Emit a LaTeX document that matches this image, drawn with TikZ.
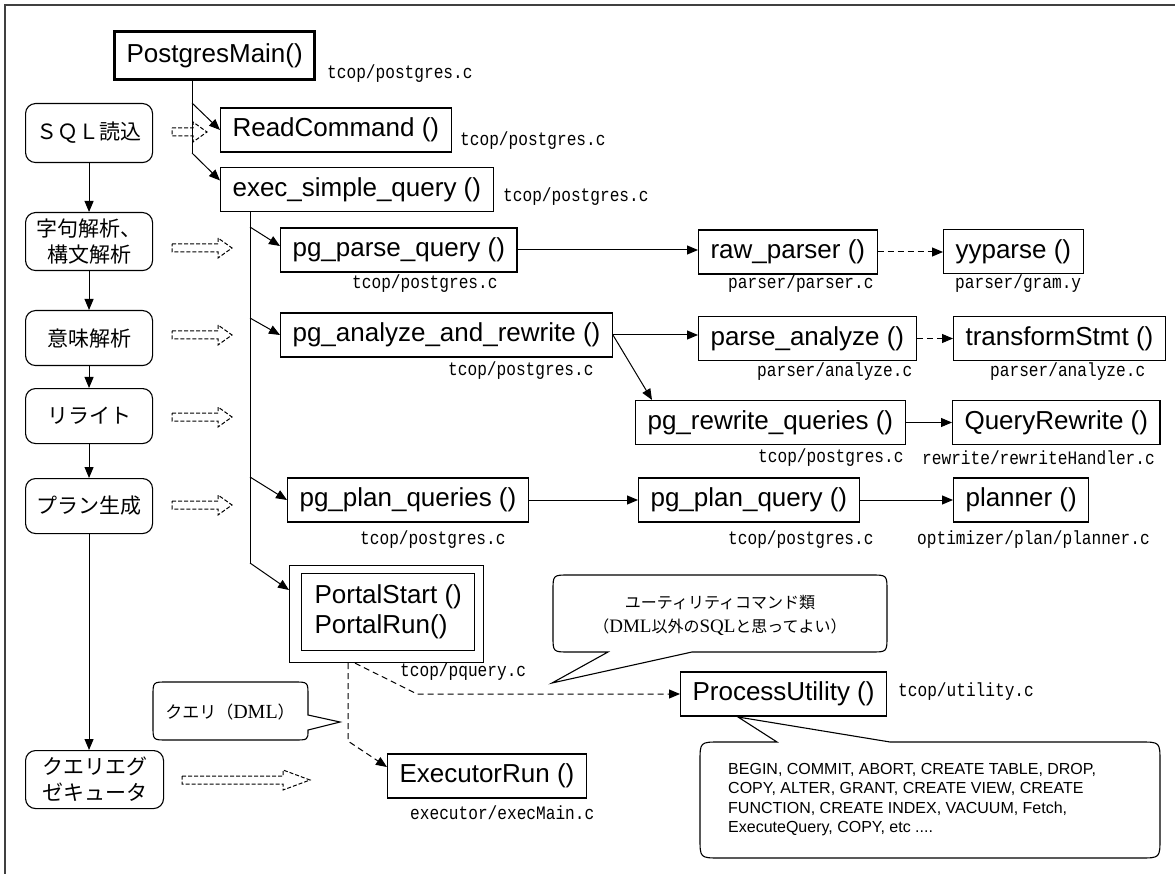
\documentclass[tikz,border=0pt]{standalone}
\usepackage{fontspec}
\setmainfont{Liberation Sans}
\newfontfamily\cjk{Noto Sans CJK JP}
\newfontfamily\monof[FakeStretch=0.85]{Liberation Mono}
\newfontfamily\seriff{Liberation Serif}
\usetikzlibrary{arrows.meta,calc}
\newcommand\harrow[4]{\draw[hollow] ({#1},{#4-4}) -- ({#2},{#4-4}) -- ({#2},{#4-10}) -- ({#3},{#4}) -- ({#2},{#4+10}) -- ({#2},{#4+4}) -- ({#1},{#4+4}) -- cycle;}
\begin{document}
\begin{tikzpicture}[x=1pt,y=-1pt,
  fn/.style={draw, line width=1.1pt, font=\fontsize{26}{30}\selectfont, minimum height=44pt, inner xsep=12pt, inner ysep=0pt, anchor=west},
  lbl/.style={font=\monof\fontsize{19}{22}\selectfont, inner sep=0pt, anchor=west},
  stepbox/.style={draw, line width=1.1pt, rounded corners=10pt, font=\cjk\fontsize{21}{26}\selectfont, align=center, minimum width=127pt, inner sep=0pt, anchor=north west},
  arr/.style={line width=1pt, -{Triangle[length=11pt,width=9pt]}},
  darr/.style={arr, dash pattern=on 6pt off 4pt},
  hollow/.style={line width=1pt, dash pattern=on 4pt off 2pt},
  balloon/.style={draw, line width=1.1pt},
  jp/.style={font=\cjk\fontsize{16}{24}\selectfont, inner sep=0pt, align=center}
]
\useasboundingbox (0,0) rectangle (1175,874);
\draw[line width=1.5pt, black!75] (5,874) -- (5,5) -- (1175,5);

% hollow dashed arrows
\harrow{172}{193}{207}{132}
\harrow{172}{218}{232}{248}
\harrow{172}{218}{232}{335}
\harrow{172}{218}{232}{417}
\harrow{172}{218}{232}{505}
\harrow{182}{283}{310}{780}

% step boxes
\node[stepbox, minimum height=59pt] (s1) at (25,103) {ＳＱＬ読込};
\node[stepbox, minimum height=58pt] (s2) at (25,212) {字句解析、\\構文解析};
\node[stepbox, minimum height=55pt] (s3) at (25,310) {意味解析};
\node[stepbox, minimum height=55pt] (s4) at (25,388) {リライト};
\node[stepbox, minimum height=55pt] (s5) at (25,478) {プラン生成};
\node[stepbox, minimum height=58pt, minimum width=138pt] (s6) at (25,750) {クエリエグ\\ゼキュータ};
\draw[arr] (s1) -- (s2);
\draw[arr] (s2) -- (s3);
\draw[arr] (s3) -- (s4);
\draw[arr] (s4) -- (s5);
\draw[arr] (s5.south) -- (s5.south |- s6.north);

% function boxes
\node[fn, line width=3pt, minimum height=48pt] (pm) at (113,56) {PostgresMain()};
\node[fn] (rc) at (220,130) {ReadCommand ()};
\node[fn] (esq) at (220,189.5) {exec\_simple\_query ()};
\node[fn] (ppq) at (280,250) {pg\_parse\_query ()};
\node[fn] (raw) at (698,252) {raw\_parser ()};
\node[fn] (yy) at (943,251.5) {yyparse ()};
\node[fn] (par) at (280,335) {pg\_analyze\_and\_rewrite ()};
\node[fn] (pa) at (698,338.5) {parse\_analyze ()};
\node[fn] (ts) at (953,338.5) {transformStmt ()};
\node[fn] (prw) at (635,422.5) {pg\_rewrite\_queries ()};
\node[fn] (qr) at (952,422.5) {QueryRewrite ()};
\node[fn] (ppl) at (287,500) {pg\_plan\_queries ()};
\node[fn] (pplq) at (638,500) {pg\_plan\_query ()};
\node[fn] (pln) at (953,500) {planner ()};
\node[fn] (pu) at (680,694) {ProcessUtility ()};
\node[fn] (er) at (387,776) {ExecutorRun ()};
\node[draw, line width=1.1pt, minimum width=194pt, minimum height=97pt, inner sep=0pt, anchor=north west] (portal) at (289,565) {};
\node[draw, line width=1.1pt, align=left, font=\fontsize{26}{30}\selectfont, minimum width=173pt, minimum height=77pt, inner xsep=13pt, anchor=north west] (portali) at (301,573) {PortalStart ()\\PortalRun()};

% file labels
\node[lbl] (l1) at (327,74) {tcop/postgres.c};
\node[lbl] (l2) at (460,141) {tcop/postgres.c};
\node[lbl] (l3) at (503,197) {tcop/postgres.c};
\node[lbl] (l4) at (352,284) {tcop/postgres.c};
\node[lbl] (l5) at (728,284) {parser/parser.c};
\node[lbl] (l6) at (955,284) {parser/gram.y};
\node[lbl] (l7) at (448,371) {tcop/postgres.c};
\node[lbl] (l8) at (757,372) {parser/analyze.c};
\node[lbl] (l9) at (990,372) {parser/analyze.c};
\node[lbl] (l10) at (758,458) {tcop/postgres.c};
\node[lbl] (l11) at (922,458) {rewrite/rewriteHandler.c};
\node[lbl] (l12) at (360,540) {tcop/postgres.c};
\node[lbl] (l13) at (728,540) {tcop/postgres.c};
\node[lbl] (l14) at (917,540) {optimizer/plan/planner.c};
\node[lbl] (l15) at (400,672) {tcop/pquery.c};
\node[lbl] (l16) at (898,692) {tcop/utility.c};
\node[lbl] (l17) at (410,813) {executor/execMain.c};

% trunk from PostgresMain
\coordinate (j0) at ($(pm.south west)+(79,0)$);
\coordinate (j1) at (192,103);
\coordinate (j2) at (192,153);
\draw[line width=1pt] (j0) -- (j2);
\draw[arr] (j1) -- (rc.west);
\draw[arr] (j2) -- ($(esq.west)+(0,-9)$);

% trunk from exec_simple_query
\coordinate (k0) at ($(esq.south west)+(30,0)$);
\coordinate (k1) at (250,227);
\coordinate (k2) at (250,318);
\coordinate (k3) at (250,477);
\coordinate (k4) at (250,563);
\draw[line width=1pt] (k0) -- (k4);
\draw[arr] (k1) -- ($(ppq.west)+(0,-4)$);
\draw[arr] (k2) -- (par.west);
\draw[arr] (k3) -- (ppl.west);
\draw[arr] (k4) -- ($(portal.north west)+(0,25)$);

% call arrows
\draw[arr] (ppq.east) -- (ppq.east -| raw.west);
\draw[darr] (raw.east) -- (raw.east -| yy.west);
\draw[arr] (par.east) -- (par.east -| pa.west);
\draw[darr] (pa.east) -- (pa.east -| ts.west);
\draw[arr] (par.east) -- ($(prw.north west)+(17,0)$);
\draw[arr] (prw.east) -- (prw.east -| qr.west);
\draw[arr] (ppl.east) -- (ppl.east -| pplq.west);
\draw[arr] (pplq.east) -- (pplq.east -| pln.west);

% dashed from portal
\draw[darr] ($(portal.south west)+(59,0)$) -- ++(0,78) -- ($(er.west)+(0,-9)$);
\coordinate (bend) at (417,694);
\draw[darr] ($(portal.south west)+(66,0)$) -- (bend) -- (pu.west);

% balloons
\draw[balloon] (308,730) .. controls (308,740) .. (294,740) -- (167,740) .. controls (153,740) .. (153,726) -- (153,696) .. controls (153,682) .. (167,682) -- (294,682) .. controls (308,682) .. (308,696) -- (308,715) -- (340,722) -- cycle;
\node[jp] (b1) at (230,712) {{\fontsize{17}{20}\selectfont クエリ（}{\seriff\fontsize{20}{22}\selectfont DML}{\fontsize{17}{20}\selectfont ）}};

\draw[balloon] (692,652) -- (871,652) .. controls (887,652) .. (887,636) -- (887,591) .. controls (887,575) .. (871,575) -- (569,575) .. controls (553,575) .. (553,591) -- (553,636) .. controls (553,652) .. (569,652) -- (608,652) -- (552,683) -- cycle;
\node[jp] (b2) at (720,615) {ユーティリティコマンド類\\（{\seriff\fontsize{19}{20}\selectfont DML}以外の{\seriff\fontsize{19}{20}\selectfont SQL}と思ってよい）};

\draw[balloon] (890,742) -- (1140,742) .. controls (1160,742) .. (1160,762) -- (1160,838) .. controls (1160,858) .. (1140,858) -- (720,858) .. controls (700,858) .. (700,838) -- (700,762) .. controls (700,742) .. (720,742) -- (777,742) -- (738,717) -- cycle;
\node[font=\fontsize{16}{19.6}\selectfont, align=left, inner sep=0pt, anchor=west] (b3) at (728,799.5) {BEGIN, COMMIT, ABORT, CREATE TABLE, DROP,\\COPY, ALTER, GRANT, CREATE VIEW, CREATE\\FUNCTION, CREATE INDEX, VACUUM, Fetch,\\ExecuteQuery, COPY, etc ....};
\end{tikzpicture}
\end{document}
